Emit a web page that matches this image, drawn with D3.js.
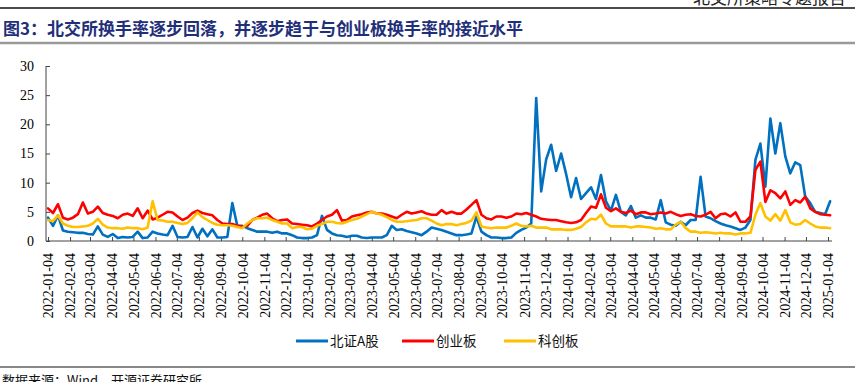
<!DOCTYPE html>
<html><head><meta charset="utf-8">
<script src="https://cdn.jsdelivr.net/npm/d3@7/dist/d3.min.js"></script>
<style>body{margin:0;background:#fff;} svg{display:block}</style>
</head><body><svg id="c" width="864" height="382"></svg>
<script>
// ---- data (weekly readings from the chart) ----
const startDate = "2022-01-04";
const seriesNames = ["北证A股", "创业板", "科创板"];
const bzA = [4.0,2.6,4.4,1.8,1.6,1.5,1.4,1.4,1.2,1.1,2.5,1.1,0.7,1.2,0.5,0.7,0.6,0.7,1.6,0.5,
  0.6,1.6,1.3,1.1,1.0,2.6,0.7,0.6,0.7,2.4,0.6,2.1,0.8,2.0,0.6,0.6,0.7,6.5,2.6,2.6,
  2.2,1.9,1.6,1.6,1.6,1.4,1.6,1.3,1.3,1.0,0.6,0.5,0.5,0.6,1.0,4.3,1.9,1.3,1.0,0.9,
  0.7,0.9,0.9,0.6,0.5,0.6,0.6,0.6,1.0,2.6,1.9,2.0,1.7,1.5,1.3,1.0,1.6,2.3,2.1,1.9,
  1.6,1.3,1.0,1.0,1.1,1.3,4.2,1.6,1.0,0.6,0.6,0.5,0.5,0.6,1.4,1.9,2.3,3.0,24.5,8.5,
  14.0,16.5,12.0,15.0,11.5,7.5,10.8,7.2,8.2,9.2,7.2,11.3,6.8,5.2,7.9,5.0,4.4,6.0,4.0,4.4,
  4.0,4.0,3.7,7.0,3.2,2.8,2.6,3.3,2.7,3.6,3.6,11.0,4.2,3.9,3.4,3.0,2.7,2.5,2.2,1.9,
  2.3,3.6,13.9,16.7,9.3,21.0,15.0,20.2,14.5,11.6,13.5,13.0,7.6,6.5,5.0,4.8,4.6,6.8];
const cyb = [5.6,4.8,6.3,4.0,3.7,4.0,4.6,6.6,4.7,5.0,5.9,4.8,4.5,4.3,3.9,4.5,4.7,4.3,5.6,3.9,
  5.2,3.7,4.0,4.5,5.0,4.9,4.2,3.6,4.0,4.8,5.2,4.8,4.6,4.4,3.6,3.0,2.9,2.9,2.6,2.5,
  2.6,3.6,4.0,4.5,4.7,3.9,3.4,3.6,3.7,3.0,2.9,2.8,2.7,2.5,3.0,3.6,4.2,4.5,5.3,3.5,
  3.6,4.2,4.4,4.6,4.9,5.0,4.7,4.7,4.5,4.2,3.9,4.5,5.0,4.7,4.9,5.1,4.7,4.5,4.5,5.3,
  4.7,5.0,4.7,4.7,5.4,6.2,7.0,4.5,3.9,3.7,4.2,4.2,4.0,4.2,4.7,4.6,4.8,4.5,4.2,3.8,
  3.7,3.6,3.6,3.4,3.2,3.1,3.2,3.6,4.8,5.9,5.7,8.0,5.7,5.1,5.6,5.0,4.8,5.2,4.6,4.9,
  4.9,4.6,4.7,4.9,4.7,5.0,4.6,4.3,4.5,4.6,4.3,4.2,4.5,5.0,3.9,4.6,4.7,4.2,4.9,3.3,
  3.3,4.2,12.2,13.6,6.7,8.7,8.2,7.3,8.5,6.2,7.0,6.6,7.6,5.6,5.0,4.6,4.5,4.4];
const kcb = [3.6,3.4,4.4,3.0,2.6,2.4,2.4,2.5,2.6,3.0,3.8,2.8,2.3,2.2,2.2,2.1,2.3,2.2,2.2,2.0,
  2.3,6.8,3.6,3.5,3.3,3.3,3.1,2.9,3.1,3.9,4.9,4.1,3.6,3.1,2.8,2.7,2.7,2.6,2.4,2.2,
  3.0,3.6,3.9,3.9,4.0,3.6,3.3,3.0,3.0,2.2,2.4,2.4,2.0,2.1,2.6,2.9,3.3,3.3,3.1,3.0,
  3.3,3.6,3.8,4.2,4.6,5.0,4.7,4.5,4.1,3.6,3.3,3.3,3.4,3.5,3.6,3.9,3.9,3.5,3.0,2.7,
  2.9,2.9,2.7,2.9,3.1,3.5,4.9,2.5,2.3,2.2,2.3,2.3,2.3,2.6,3.0,2.6,2.5,2.6,2.3,2.3,
  2.3,2.0,2.0,2.0,1.9,1.9,2.1,2.4,3.2,3.8,3.7,4.5,3.0,2.5,2.5,2.5,2.5,2.3,2.5,2.5,
  2.4,2.3,2.1,2.2,2.0,2.0,2.8,3.3,2.2,1.6,1.6,1.4,1.5,1.4,1.3,1.4,1.3,1.3,1.1,1.3,
  1.3,1.4,4.5,6.5,4.2,3.5,4.6,3.5,5.3,3.2,2.8,2.9,3.6,3.0,2.5,2.3,2.3,2.2];
const tickLabels = ["2022-01-04","2022-02-04","2022-03-04","2022-04-04","2022-05-04","2022-06-04",
  "2022-07-04","2022-08-04","2022-09-04","2022-10-04","2022-11-04","2022-12-04",
  "2023-01-04","2023-02-04","2023-03-04","2023-04-04","2023-05-04","2023-06-04",
  "2023-07-04","2023-08-04","2023-09-04","2023-10-04","2023-11-04","2023-12-04",
  "2024-01-04","2024-02-04","2024-03-04","2024-04-04","2024-05-04","2024-06-04",
  "2024-07-04","2024-08-04","2024-09-04","2024-10-04","2024-11-04","2024-12-04","2025-01-04"];
const yTicks = [0, 5, 10, 15, 20, 25, 30];
const colors = ["#0070C0", "#FF0000", "#FFC000"];

// ---- chart ----
const svg = d3.select("#c");
const parse = d3.timeParse("%Y-%m-%d");
const fmt = d3.timeFormat("%Y-%m-%d");
const t0 = parse(startDate);
const dates = bzA.map((_, i) => d3.timeDay.offset(t0, 7 * i));
const tickDates = tickLabels.map(parse);

const x = d3.scaleTime().domain([parse("2022-01-04"), parse("2025-01-04")]).range([48, 828]);
const y = d3.scaleLinear().domain([0, 30]).range([241, 66]);

// header
svg.append("text").attr("x", 846).attr("y", 4).attr("text-anchor", "end")
  .attr("font-family", "Noto Sans CJK SC").attr("font-size", 17).attr("fill", "#222")
  .text("北交所策略专题报告");
svg.append("line").attr("x1", 0).attr("x2", 855).attr("y1", 8).attr("y2", 8)
  .attr("stroke", "#111").attr("stroke-width", 1.5);
svg.append("text").attr("x", 3).attr("y", 35)
  .attr("font-family", "Noto Sans CJK SC").attr("font-weight", 700).attr("font-size", 17)
  .attr("fill", "#1F2F7A")
  .text("图3：北交所换手率逐步回落，并逐步趋于与创业板换手率的接近水平");
svg.append("line").attr("x1", 0).attr("x2", 855).attr("y1", 43).attr("y2", 43)
  .attr("stroke", "#999").attr("stroke-width", 2.5);

// axes
const yAxis = d3.axisLeft(y).tickValues(yTicks).tickSize(-4).tickPadding(12);
const gy = svg.append("g").attr("transform", "translate(46,0)").call(yAxis);
gy.select(".domain").remove();
gy.selectAll("text").attr("font-family", "Liberation Serif").attr("font-size", 14).attr("fill", "#000");
gy.selectAll("line").attr("stroke", "#444");
svg.append("line").attr("x1", 46).attr("x2", 46).attr("y1", 66).attr("y2", 241).attr("stroke", "#444");

const xAxis = d3.axisBottom(x).tickValues(tickDates).tickSize(-4).tickFormat(fmt);
const gx = svg.append("g").attr("transform", "translate(0,241)").call(xAxis);
gx.select(".domain").remove();
gx.selectAll("line").attr("stroke", "#444");
gx.selectAll("text")
  .attr("font-family", "Liberation Serif").attr("font-size", 14).attr("fill", "#000")
  .attr("text-anchor", "end")
  .attr("transform", "translate(0,12) rotate(-90)")
  .attr("x", 0).attr("y", 0).attr("dy", "0.35em");
svg.append("line").attr("x1", 46).attr("x2", 832).attr("y1", 241).attr("y2", 241).attr("stroke", "#444");

// lines
const all = [bzA, cyb, kcb];
const line = d3.line().x((d, i) => x(dates[i])).y(d => y(d));
all.forEach((s, k) => {
  svg.append("path").datum(s).attr("d", line).attr("fill", "none")
    .attr("stroke", colors[k]).attr("stroke-width", 2.6)
    .attr("stroke-linejoin", "round").attr("stroke-linecap", "round");
});

// legend
const legX = [296, 402, 504];
seriesNames.forEach((n, k) => {
  svg.append("line").attr("x1", legX[k]).attr("x2", legX[k] + 32).attr("y1", 341).attr("y2", 341)
    .attr("stroke", colors[k]).attr("stroke-width", 3);
  svg.append("text").attr("x", legX[k] + 34).attr("y", 346)
    .attr("font-family", "Noto Sans CJK SC").attr("font-size", 13.5).attr("fill", "#111")
    .text(n);
});

// footer
svg.append("line").attr("x1", 0).attr("x2", 855).attr("y1", 367).attr("y2", 367)
  .attr("stroke", "#888").attr("stroke-width", 2);
svg.append("text").attr("x", 2).attr("y", 385)
  .attr("font-family", "Noto Sans CJK SC").attr("font-size", 13).attr("fill", "#111")
  .text("数据来源：Wind，开源证券研究所");
</script></body></html>
